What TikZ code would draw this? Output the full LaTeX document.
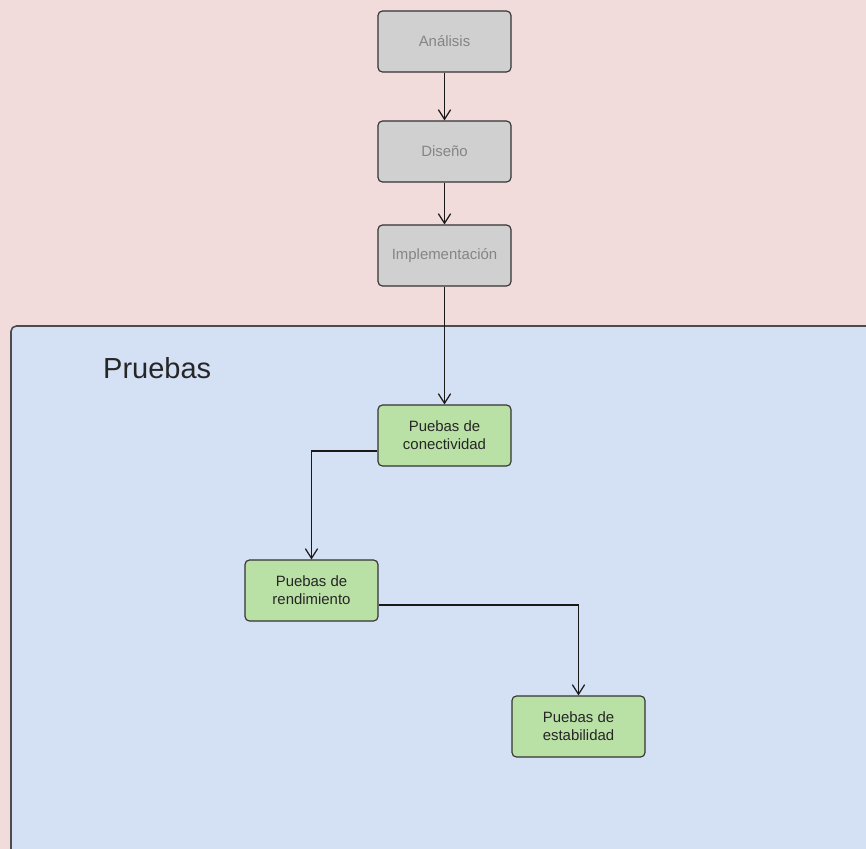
\documentclass[tikz,border=0pt]{standalone}
\usepackage{fontspec}
\setmainfont{Liberation Sans}
\usetikzlibrary{arrows.meta}

\definecolor{rosa}{HTML}{F2DCDB}
\definecolor{azul}{HTML}{D4E1F5}
\definecolor{gris}{HTML}{D0D0D0}
\definecolor{verde}{HTML}{B9E0A5}
\definecolor{borde}{HTML}{333333}

\begin{document}
\begin{tikzpicture}[
    x=0.02cm, y=-0.02cm,
    base/.style = {rectangle, rounded corners=2.5pt, draw=borde, line width=0.65pt,
minimum width=2.66cm, minimum height=1.22cm,
text centered, align=center, font=\fontsize{8.5}{10.2}\selectfont},
    fase/.style = {base, fill=gris, text=black!48},
    prueba/.style = {base, fill=verde, text=black!85},
    flecha/.style = {draw=black!90, line width=0.7pt, -{Straight Barb[length=5.5pt,width=7pt]}}
]

  \useasboundingbox (0,0) rectangle (866,849);
  \clip (0,0) rectangle (866,849);
  \fill[rosa] (0,0) rectangle (866,849);
  % contenedor de pruebas
  \fill[azul, rounded corners=3pt] (11,900) rectangle (900,326);
  \draw[draw=black!70, line width=0.9pt, rounded corners=3pt]
      (11,900) -- (11,326) -- (900,326);
  \node (titulo) [anchor=base west, font=\fontsize{16.5}{20}\selectfont, text=black!85] at (97,378) {Pruebas};

  \node (analisis) [fase] at (444.5,41.5) {Análisis};
  \node (diseno) [fase] at (444.5,151.5) {Diseño};
  \node (implem) [fase] at (444.5,255.5) {Implementación};
  \node (conect) [prueba] at (444.5,435.5) {Puebas de\\conectividad};
  \node (rendim) [prueba] at (311.5,590.5) {Puebas de\\rendimiento};
  \node (estab) [prueba] at (578.5,726.5) {Puebas de\\estabilidad};

  \draw[flecha] (analisis) -- (diseno);
  \draw[flecha] (diseno) -- (implem);
  \draw[flecha] (implem) -- (conect);
  \draw[flecha] ([yshift=-0.31cm]conect.west) -| (rendim.north);
  \draw[flecha] ([yshift=-0.29cm]rendim.east) -| (estab.north);

\end{tikzpicture}
\end{document}
